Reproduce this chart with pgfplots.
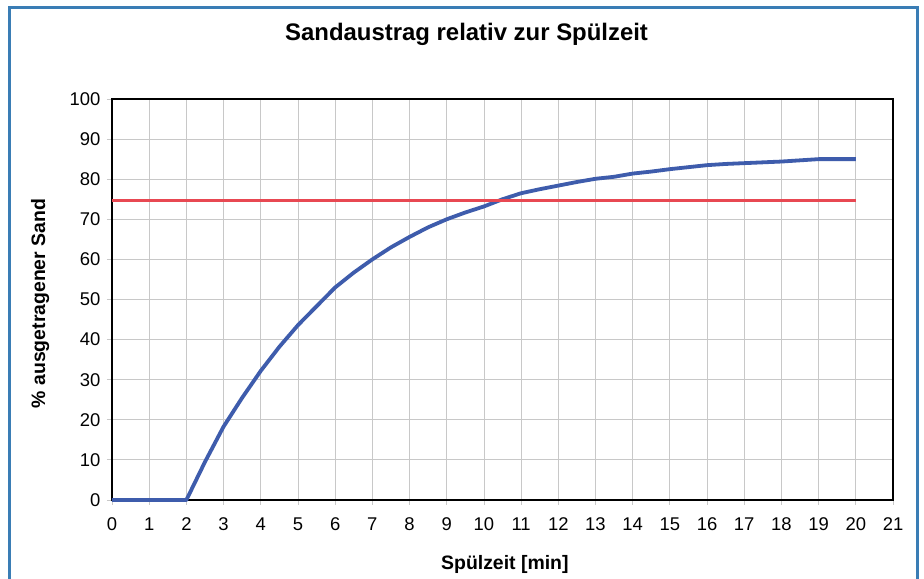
\documentclass[border=0pt]{standalone}
\usepackage{fontspec}
\setmainfont{Liberation Sans}
\usepackage{pgfplots}
\pgfplotsset{compat=1.18}
\definecolor{framec}{RGB}{58,125,181}
\definecolor{curvec}{RGB}{62,92,172}
\definecolor{redc}{RGB}{232,72,82}
\definecolor{gridc}{RGB}{200,200,200}
\begin{document}
\begin{tikzpicture}[x=1bp,y=1bp]
\useasboundingbox (-112,-79) rectangle (812,500);
\fill[white] (-112,-79) rectangle (812,500);
\draw[framec, line width=3bp] (-102,-80) -- (-102,492) -- (805,492) -- (805,-80);
\begin{axis}[
  at={(0,0)}, anchor=origin,
  scale only axis, width=781bp, height=401bp,
  xmin=0, xmax=21, ymin=0, ymax=100,
  xtick={0,1,...,21}, ytick={0,10,...,100},
  grid=major,
  major grid style={gridc, line width=0.8bp},
  axis line style={black, line width=1.2bp},
  tick align=outside, major tick length=5bp,
  tick style={gridc, line width=0.8bp},
  xtick pos=left, ytick pos=left,
  /pgf/number format/assume math mode=true,
  ticklabel style={font=\fontsize{18.5}{20}\selectfont},
  xticklabel style={yshift=-9bp},
  yticklabel style={xshift=-3bp},
  title={\textbf{Sandaustrag relativ zur Spülzeit}},
  title style={font=\fontsize{24}{26}\selectfont, at={(axis description cs:0.454,1.0)}, anchor=base, yshift=53bp},
  xlabel={\textbf{Spülzeit [min]}},
  xlabel style={font=\fontsize{19.5}{21}\selectfont, at={(axis description cs:0.503,-0.16)}, anchor=center},
  ylabel={\textbf{\% ausgetragener Sand}},
  ylabel style={font=\fontsize{19.5}{21}\selectfont, at={(axis description cs:-0.092,0.49)}, anchor=center},
  clip=false,
]
\addplot[curvec, line width=3.8bp, line join=round] coordinates {
(0,0) (1,0) (2,0) (2.5,9.5) (3,18.3) (3.5,25.5) (4,32.2) (4.5,38.2) (5,43.6)
(5.5,48.3) (6,53) (6.5,56.7) (7,60) (7.5,63) (8,65.6) (8.5,68) (9,70)
(9.5,71.7) (10,73.2) (10.5,75) (11,76.5) (11.5,77.5) (12,78.4) (12.5,79.3)
(13,80.1) (13.5,80.6) (14,81.4) (14.5,81.9) (15,82.5) (15.5,83) (16,83.5)
(16.5,83.8) (17,84) (17.5,84.2) (18,84.4) (18.5,84.7) (19,85) (19.5,85) (20,85)
};
\addplot[redc, line width=3.8bp] coordinates {(0,74.7) (20,74.7)};
\end{axis}
\end{tikzpicture}
\end{document}
